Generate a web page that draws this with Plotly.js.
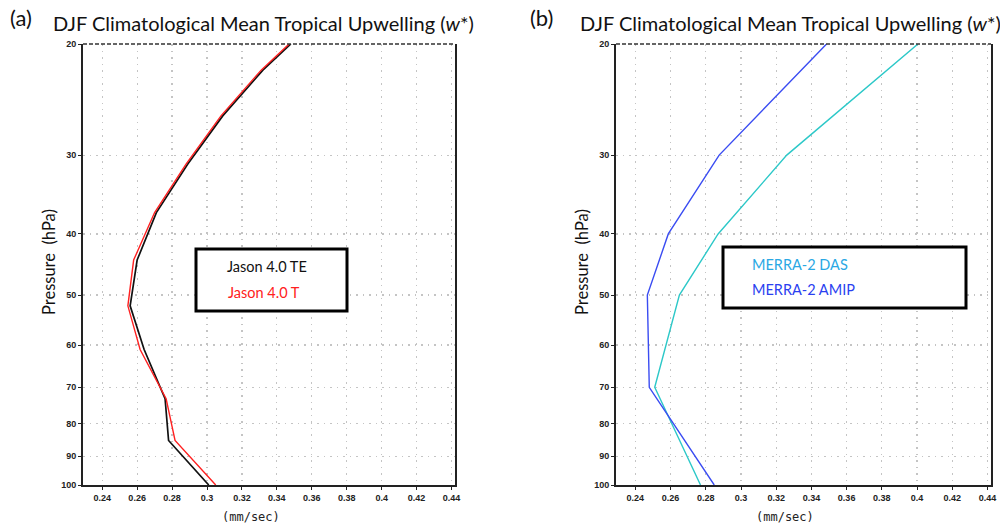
<!DOCTYPE html>
<html>
<head>
<meta charset="utf-8">
<script src="https://cdn.plot.ly/plotly-3.0.1.min.js"></script>
<style>html,body{margin:0;padding:0;background:#fff;}#chart{width:1000px;height:528px;}</style>
</head>
<body>
<div id="chart"></div>
<script>
// Panel (a): Jason 4.0 model levels
const pressureA = [20, 22, 26, 31, 37, 44, 52, 61, 73, 85, 100];
const jasonTE   = [0.348, 0.332, 0.309, 0.289, 0.271, 0.260, 0.256, 0.264, 0.276, 0.278, 0.301];
const jasonT    = [0.347, 0.331, 0.308, 0.288, 0.270, 0.258, 0.2547, 0.2617, 0.2766, 0.2817, 0.305];
// Panel (b): MERRA-2 standard levels
const pressureB = [20, 30, 40, 50, 70, 100];
const merraDAS  = [0.4005, 0.326, 0.287, 0.265, 0.251, 0.277];
const merraAMIP = [0.3486, 0.2876, 0.2587, 0.2468, 0.2479, 0.2848];
// Tick labels
const yTickVals = [20, 30, 40, 50, 60, 70, 80, 90, 100];
const yTickText = ['20','30','40','50','60','70','80','90','100'];
const xTickVals = [0.24, 0.26, 0.28, 0.30, 0.32, 0.34, 0.36, 0.38, 0.40, 0.42, 0.44];
const xTickText = ['0.24','0.26','0.28','0.3','0.32','0.34','0.36','0.38','0.4','0.42','0.44'];

const W = 1000, H = 528;
const px = x => x / W;
const py = y => 1 - y / H;

const traces = [
  {x: jasonTE, y: pressureA, xaxis: 'x', yaxis: 'y', mode: 'lines', line: {color: '#111111', width: 1.7}, name: 'Jason 4.0 TE'},
  {x: jasonT, y: pressureA, xaxis: 'x', yaxis: 'y', mode: 'lines', line: {color: '#ff2020', width: 1.4}, name: 'Jason 4.0 T'},
  {x: merraDAS, y: pressureB, xaxis: 'x2', yaxis: 'y2', mode: 'lines', line: {color: '#2cc8c8', width: 1.4}, name: 'MERRA-2 DAS'},
  {x: merraAMIP, y: pressureB, xaxis: 'x2', yaxis: 'y2', mode: 'lines', line: {color: '#3a4cf2', width: 1.4}, name: 'MERRA-2 AMIP'}
];

const tickFont = {family: 'Liberation Sans, Arial, sans-serif', size: 9, color: '#222', weight: 'bold'};
function xAxis(dom, anchor) {
  return {domain: dom, anchor: anchor, range: [0.229, 0.442], tickvals: xTickVals, ticktext: xTickText,
    showgrid: true, gridcolor: '#c4c4c4', griddash: '1.5px,5px', gridwidth: 1.2,
    showline: true, linecolor: '#222', linewidth: 2, mirror: false,
    ticks: 'outside', ticklen: 3, tickcolor: '#222', tickfont: tickFont, zeroline: false, fixedrange: true};
}
function yAxis(dom, anchor) {
  return {domain: dom, anchor: anchor, type: 'log', range: [2, Math.log10(20)],
    tickvals: yTickVals, ticktext: yTickText,
    showgrid: true, gridcolor: '#c4c4c4', griddash: '1.5px,5px', gridwidth: 1.2,
    showline: true, linecolor: '#222', linewidth: 2, mirror: true,
    ticks: 'outside', ticklen: 3, tickcolor: '#222', tickfont: tickFont, zeroline: false, fixedrange: true};
}

const yDom = [py(485), py(44)];
const titleFont = {family: 'Lato, Noto Sans, sans-serif', size: 20, color: '#111'};
const labFont = {family: 'Lato, Noto Sans, sans-serif', size: 22, color: '#111'};
const ytFont = {family: 'Lato, Noto Sans, sans-serif', size: 16.5, color: '#111'};
const xtFont = {family: 'DejaVu Sans Mono, monospace', size: 12, color: '#222'};
const legFont = {family: 'Lato, Noto Sans, sans-serif', size: 14.5};

const layout = {
  width: W, height: H,
  margin: {l: 0, r: 0, t: 0, b: 0},
  paper_bgcolor: '#fff', plot_bgcolor: '#fff',
  showlegend: false,
  xaxis: xAxis([px(83), px(455)], 'y'),
  yaxis: yAxis(yDom, 'x'),
  xaxis2: xAxis([px(616), px(991)], 'y2'),
  yaxis2: yAxis(yDom, 'x2'),
  shapes: [
    {type: 'line', xref: 'x domain', yref: 'y domain', x0: 0, x1: 1, y0: 1, y1: 1, line: {color: '#333', width: 1.5, dash: '4px,2px'}},
    {type: 'line', xref: 'x2 domain', yref: 'y2 domain', x0: 0, x1: 1, y0: 1, y1: 1, line: {color: '#333', width: 1.5, dash: '4px,2px'}},
    {type: 'rect', xref: 'paper', yref: 'paper', x0: px(196), x1: px(347), y0: py(311), y1: py(249), line: {color: '#000', width: 3}, fillcolor: '#fff'},
    {type: 'rect', xref: 'paper', yref: 'paper', x0: px(723), x1: px(966), y0: py(308), y1: py(247), line: {color: '#000', width: 3}, fillcolor: '#fff'}
  ],
  annotations: [
    {text: '(a)', xref: 'paper', yref: 'paper', x: px(21), y: py(18), xanchor: 'center', yanchor: 'middle', showarrow: false, font: labFont},
    {text: '(b)', xref: 'paper', yref: 'paper', x: px(541), y: py(18), xanchor: 'center', yanchor: 'middle', showarrow: false, font: labFont},
    {text: 'DJF Climatological Mean Tropical Upwelling (<i>w</i>*)', xref: 'paper', yref: 'paper', x: px(263), y: py(23), xanchor: 'center', yanchor: 'middle', showarrow: false, font: titleFont},
    {text: 'DJF Climatological Mean Tropical Upwelling (<i>w</i>*)', xref: 'paper', yref: 'paper', x: px(790), y: py(23), xanchor: 'center', yanchor: 'middle', showarrow: false, font: titleFont},
    {text: 'Pressure  (hPa)', xref: 'paper', yref: 'paper', x: px(49), y: py(262), xanchor: 'center', yanchor: 'middle', textangle: -90, showarrow: false, font: ytFont},
    {text: 'Pressure  (hPa)', xref: 'paper', yref: 'paper', x: px(582), y: py(262), xanchor: 'center', yanchor: 'middle', textangle: -90, showarrow: false, font: ytFont},
    {text: '(mm/sec)', xref: 'paper', yref: 'paper', x: px(251), y: py(517), xanchor: 'center', yanchor: 'middle', showarrow: false, font: xtFont},
    {text: '(mm/sec)', xref: 'paper', yref: 'paper', x: px(785), y: py(517), xanchor: 'center', yanchor: 'middle', showarrow: false, font: xtFont},
    {text: 'Jason 4.0 TE', xref: 'paper', yref: 'paper', x: px(267), y: py(266), xanchor: 'center', yanchor: 'middle', showarrow: false, font: Object.assign({color: '#111'}, legFont)},
    {text: 'Jason 4.0 T', xref: 'paper', yref: 'paper', x: px(264), y: py(292), xanchor: 'center', yanchor: 'middle', showarrow: false, font: Object.assign({color: '#ff2020'}, legFont)},
    {text: 'MERRA-2 DAS', xref: 'paper', yref: 'paper', x: px(800), y: py(264), xanchor: 'center', yanchor: 'middle', showarrow: false, font: Object.assign({color: '#2aa8e4'}, legFont)},
    {text: 'MERRA-2 AMIP', xref: 'paper', yref: 'paper', x: px(803), y: py(289), xanchor: 'center', yanchor: 'middle', showarrow: false, font: Object.assign({color: '#2b3ff0'}, legFont)}
  ]
};

Plotly.newPlot('chart', traces, layout, {displayModeBar: false, staticPlot: true});
</script>
</body>
</html>
